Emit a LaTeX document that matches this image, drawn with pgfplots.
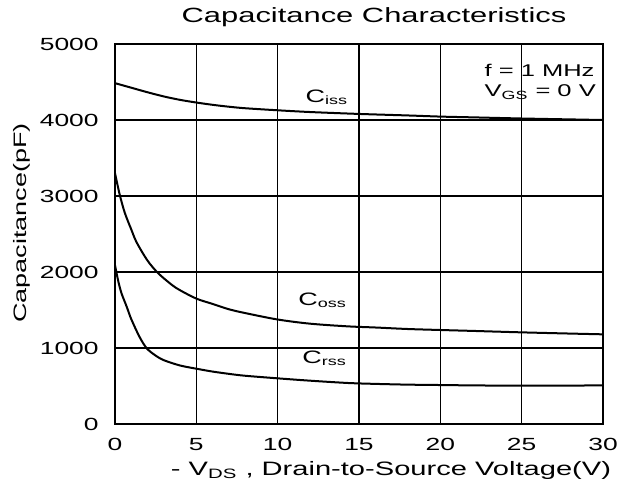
\documentclass[border=0pt]{standalone}
\usepackage{fontspec}
\setmainfont{Liberation Sans}[FakeStretch=1.5]
\usepackage{pgfplots}
\pgfplotsset{compat=1.18}
\begin{document}
\begin{tikzpicture}
\begin{axis}[
  name=ax,
  scale only axis,
  width=244pt, height=190pt,
  xmin=0, xmax=30, ymin=0, ymax=5000,
  xtick={0,5,...,30}, ytick={0,1000,...,5000},
  scaled y ticks=false,
  /pgf/number format/assume math mode=true,
  /pgf/number format/1000 sep={},
  grid=major,
  major grid style={black, line width=0.8pt},
  axis line style={black, line width=0.8pt},
  major tick length=0pt,
  tick label style={font=\fontsize{8.8}{10}\selectfont},
  yticklabel style={anchor=east, inner sep=0pt, xshift=-8pt},
  xticklabel style={anchor=north, inner sep=0pt, yshift=-7pt},
  clip=false,
]
\addplot[black, line width=1pt, smooth] coordinates {
(0,4485) (1,4425) (2,4365) (3,4310) (4,4265) (5,4230) (6,4200) (7,4175) (8,4155) (10,4128) (12,4105) (15,4080) (18,4060) (20,4045) (22,4035) (25,4020) (28,4008) (30,4000)};
\addplot[black, line width=1pt, smooth] coordinates {
(0,3300) (0.15,3150) (0.31,3000) (0.6,2780) (1,2560) (1.33,2390) (2,2150) (2.66,1983) (3.5,1830) (4,1760) (5,1650) (6,1580) (7,1510) (8,1460) (10,1375) (12,1320) (14.3,1285) (16,1270) (18,1250) (20,1237) (22,1225) (25,1206) (28,1190) (30,1180)};
\addplot[black, line width=1pt, smooth] coordinates {
(0,2090) (0.2,1880) (0.4,1720) (0.72,1543) (1,1380) (1.5,1150) (1.95,996) (2.5,900) (3,840) (4,770) (5.2,720) (6,690) (7,660) (8,635) (10,601) (12,570) (14.3,540) (16,528) (18,518) (20,513) (22,508) (25,504) (28,505) (30,510)};
\node[anchor=west, inner sep=0pt, font=\fontsize{9}{10}\selectfont] at (axis cs:11.7,4300) {C\textsubscript{iss}};
\node[anchor=west, inner sep=0pt, font=\fontsize{9}{10}\selectfont] at (axis cs:11.25,1632) {C\textsubscript{oss}};
\node[anchor=west, inner sep=0pt, font=\fontsize{9}{10}\selectfont] at (axis cs:11.5,868) {C\textsubscript{rss}};
\node[anchor=west, inner sep=0pt, font=\fontsize{8.5}{10}\selectfont] at (axis cs:22.7,4658) {f = 1 MHz};
\node[anchor=west, inner sep=0pt, font=\fontsize{8.5}{10}\selectfont] at (axis cs:22.7,4368) {V\textsubscript{GS} = 0 V};
\end{axis}
\node[font=\fontsize{10.3}{12}\selectfont] at ([shift={(129.5pt,203.5pt)}]ax.south west) {Capacitance Characteristics};
\node[rotate=90, font=\fontsize{9}{11}\selectfont] at ([shift={(-46.5pt,100.5pt)}]ax.south west) {Capacitance(pF)};
\node[font=\fontsize{9.7}{11}\selectfont] at ([shift={(138pt,-23pt)}]ax.south west) {- V\textsubscript{DS} , Drain-to-Source Voltage(V)};
\pgfresetboundingbox
\path ([shift={(-57.5pt,-30pt)}]ax.south west) rectangle ++(315pt,242pt);
\end{tikzpicture}
\end{document}
